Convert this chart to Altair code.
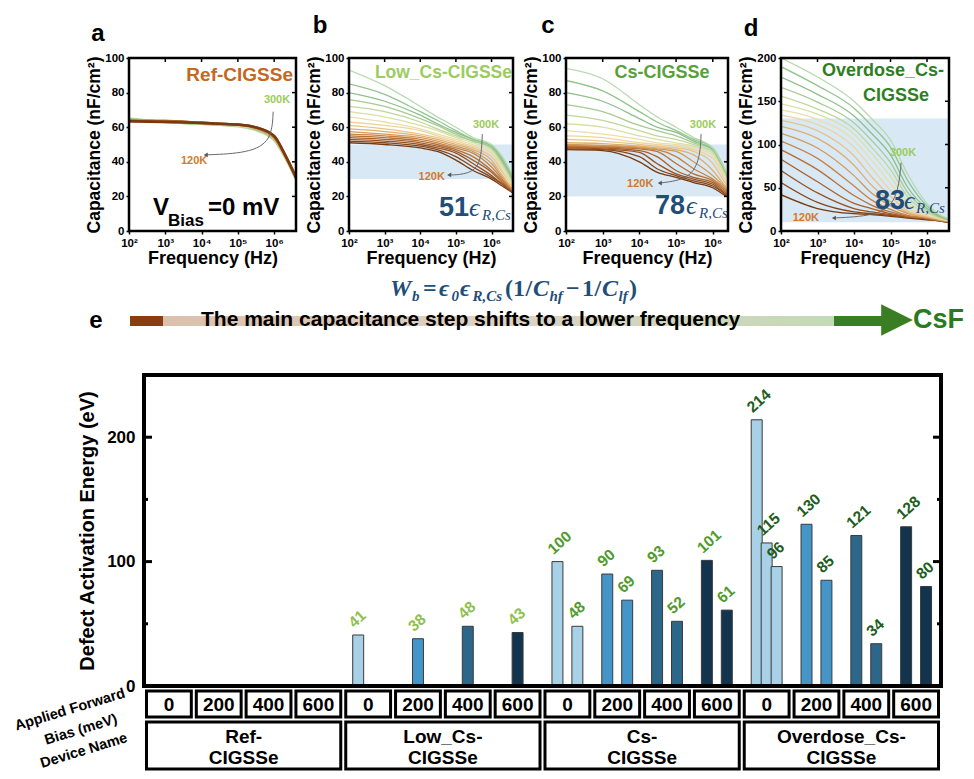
import altair as alt
import pandas as pd

SANS = "Liberation Sans, Arial, sans-serif"
NARROW = "Liberation Sans Narrow, Liberation Sans, Arial, sans-serif"
SERIF = "Liberation Serif, DejaVu Serif, serif"
NAVY = "#1f4e79"

# ---------------- data: capacitance spectra ----------------
FREQ = [1e2, 1e3, 1e4, 3e4, 1e5, 3e5, 1e6, 2e6, 4e6]
# curve colours: index 0 = 120K (brown) ... 16 = 300K (green)
PALETTE = ["#77390f", "#874517", "#985220", "#a8602a", "#b87035", "#c78243",
           "#d49856", "#dfae6d", "#e8c486", "#eed59d", "#ebdeaa", "#d9e0a4",
           "#c0d79b", "#a5cb92", "#8cbf89", "#92c48d", "#b6dbae"]

REF_IDX = [16, 13, 10, 6, 3, 0]
REF_CURVES = [
    [65.0, 63.0, 62.0, 61.5, 60.5, 58.5, 52.5, 42.5, 30.0],
    [64.5, 63.0, 62.0, 61.5, 61.0, 59.0, 53.0, 43.0, 30.0],
    [64.0, 63.5, 62.5, 62.0, 61.0, 59.5, 53.5, 43.0, 30.5],
    [64.0, 63.5, 62.5, 62.0, 61.5, 59.5, 54.0, 43.5, 30.5],
    [63.5, 63.5, 62.5, 62.0, 61.5, 60.0, 54.5, 44.0, 31.0],
    [63.5, 63.0, 62.5, 62.0, 61.5, 60.0, 55.0, 44.0, 31.0],
]

SERIES_IDX = list(range(17))
LOW_CURVES = [
    [51, 50, 48, 46, 41, 35, 30, 26, 22],
    [52, 51, 49, 47, 43, 37, 31, 27, 22],
    [53, 52, 50, 48, 45, 39, 32, 27, 22],
    [54, 53, 51, 49, 46, 41, 34, 28, 23],
    [55, 54, 52, 50, 47, 43, 35, 29, 23],
    [56, 55, 53, 51, 48, 45, 37, 30, 23],
    [57.5, 56, 54, 52, 49, 46, 39, 31, 24],
    [59, 57.5, 55, 53, 50, 47, 41, 32, 24],
    [61, 59, 56, 54, 51, 48, 43, 34, 25],
    [63, 61, 58, 55, 52, 49, 45, 35, 25],
    [66, 63, 59, 56, 53, 50, 46, 37, 26],
    [69, 66, 61, 58, 54, 51, 47, 38, 27],
    [72, 69, 63, 59, 55, 52, 48, 39, 28],
    [76, 72, 65, 61, 56, 52, 48, 40, 29],
    [80, 75, 67, 62, 57, 53, 49, 41, 30],
    [85, 79, 69, 64, 58, 53, 49, 42, 31],
    [93, 84, 72, 66, 60, 54, 50, 43, 32],
]
CS_CURVES = [
    [47, 46.5, 40, 34, 31, 28, 25, 21, 17],
    [47.5, 47, 43, 36, 32, 29, 26, 22, 17],
    [48, 47.5, 45.5, 39, 33, 30, 27, 22, 17],
    [48.5, 48, 46.5, 43, 35, 31, 28, 23, 18],
    [49, 48.5, 47.5, 46, 39, 33, 29, 24, 18],
    [49.5, 49, 48, 47, 43, 36, 30, 25, 18],
    [50, 49.5, 48.5, 47.5, 46, 40, 32, 26, 18],
    [51, 50.5, 49, 48, 47, 44, 35, 27, 19],
    [53, 52, 50, 49, 48, 46, 39, 29, 19],
    [55, 54, 51, 50, 49, 47, 42, 31, 20],
    [58, 56, 53, 51, 50, 48, 44, 33, 20],
    [62, 60, 55, 53, 51, 49, 45, 34, 21],
    [67, 64, 58, 55, 53, 50, 46, 35, 21],
    [73, 69, 61, 58, 55, 51, 47, 36, 22],
    [80, 75, 65, 60, 57, 52, 47, 36, 22],
    [87, 81, 69, 63, 58, 53, 48, 37, 22],
    [94, 88, 73, 66, 60, 54, 48, 37, 23],
]
OD_CURVES = [
    [42, 26, 20, 19, 17, 15, 13, 12, 10],
    [56, 33, 22, 20, 18, 16, 14, 12, 10],
    [70, 44, 26, 22, 19, 16, 14, 12, 10],
    [83, 57, 32, 26, 20, 17, 14, 12, 11],
    [94, 71, 41, 30, 22, 17, 15, 13, 11],
    [104, 84, 52, 36, 25, 18, 15, 13, 11],
    [113, 96, 64, 44, 29, 20, 16, 13, 11],
    [121, 107, 76, 53, 34, 21, 16, 14, 11],
    [128, 116, 87, 63, 40, 23, 17, 14, 12],
    [134, 123, 97, 73, 47, 26, 18, 15, 12],
    [140, 129, 105, 82, 55, 30, 19, 15, 12],
    [147, 135, 112, 90, 63, 34, 21, 16, 12],
    [156, 141, 118, 97, 71, 39, 22, 16, 13],
    [166, 149, 125, 105, 79, 44, 24, 17, 13],
    [178, 158, 133, 113, 88, 50, 26, 18, 13],
    [190, 168, 142, 122, 97, 58, 29, 19, 14],
    [200, 178, 150, 130, 105, 65, 32, 20, 14],
]

# temperature arrows (freq, capacitance) and label anchors
A_ARROW = ([9.4e5, 8.5e5, 2e5, 1.3e4], [69, 52, 45, 44])
B_ARROW = ([5.5e5, 5.0e5, 1.5e5, 6.5e4], [56, 36, 32.5, 32.4])
C_ARROW = ([4.8e5, 4.5e5, 2.4e5, 3.6e4], [56, 42, 30, 27.7])
D_ARROW = ([1.95e5, 1.6e5, 6e4, 2.8e3], [79, 40, 18, 15])
K300 = {"a": (1.2e6, 76), "b": (7e5, 61), "c": (5.4e5, 61), "d": (2.2e5, 90)}
K120 = {"a": (6.2e3, 40.5), "b": (2.1e4, 31), "c": (1.05e4, 27), "d": (4.8e2, 15)}
BANDS = {"b": (30, 50), "c": (20, 50), "d": (10, 130)}
EPS_VALUES = {"b": "51", "c": "78", "d": "83"}
DECADES = [1e2, 1e3, 1e4, 1e5, 1e6]

# ---------------- data: activation energies ----------------
DEVICES = ["Ref-\nCIGSSe", "Low_Cs-\nCIGSSe", "Cs-\nCIGSSe", "Overdose_Cs-\nCIGSSe"]
BIAS = ["0", "200", "400", "600"]
BAR_DEVICE = [1, 1, 1, 1, 2, 2, 2, 2, 2, 2, 2, 2, 3, 3, 3, 3, 3, 3, 3, 3, 3]
BAR_BIAS = [0, 1, 2, 3, 0, 0, 1, 1, 2, 2, 3, 3, 0, 0, 0, 1, 1, 2, 2, 3, 3]
BAR_SLOT = [0, 1, 1, 1, 0, 2, 0, 2, 0, 2, 0, 2, 0, 1, 2, 0, 2, 0, 2, 0, 2]
BAR_VALUE = [41, 38, 48, 43, 100, 48, 90, 69, 93, 52, 101, 61,
             214, 115, 96, 130, 85, 121, 34, 128, 80]
BIAS_COLORS = ["#a8d0e6", "#4595c8", "#2c6689", "#12344f"]
LABEL_COLORS = ["#8fc04c", "#8fc04c", "#4f9b2c", "#1e5c20"]

ONE = pd.DataFrame({"z": [0]})
LABEL_EXPR = ("datum.value < 500 ? '10\u00b2' : datum.value < 5000 ? '10\u00b3' : "
              "datum.value < 50000 ? '10\u2074' : datum.value < 500000 ? '10\u2075' : '10\u2076'")
PH = 173


def ptext(txt, x, y, size, color="black", align="left", baseline="middle",
          font=SANS, weight="bold", style="normal", angle=0):
    kw = dict(text=txt, align=align, baseline=baseline, font=font, fontSize=size,
              fontWeight=weight, fontStyle=style, color=color)
    if angle:
        kw["angle"] = angle
    return alt.Chart(ONE).mark_text(**kw).encode(x=alt.value(x), y=alt.value(y))


def ghost(x, y):
    # invisible anchor that fixes the extent of a panel for the concat layout
    return alt.Chart(ONE).mark_point(opacity=0, size=1).encode(x=alt.value(x), y=alt.value(y))


def curve_frame(curves, idx):
    rows = []
    for k, vals in zip(idx, curves):
        for f, c in zip(FREQ, vals):
            rows.append({"f": f, "c": c, "k": k})
    return pd.DataFrame(rows)


def top_panel(key, curves, idx, xmax, ymax, yticks, width, line_w, extra):
    xs = alt.Scale(type="log", domain=[100, xmax], nice=False)
    ys = alt.Scale(domain=[0, ymax], nice=False)
    xaxis = alt.Axis(values=DECADES, labelExpr=LABEL_EXPR,
                     title="Frequency (Hz)", titleFontSize=18, titleFontWeight="bold",
                     labelFontSize=11.5, labelFontWeight="bold", tickSize=3, tickWidth=1.5,
                     domain=False, labelPadding=3, titlePadding=1, labelFlush=False,
                     labelOverlap=False, grid=False)
    yaxis = alt.Axis(values=yticks, title="Capacitance (nF/cm\u00b2)", titleFontSize=17.5,
                     titleFontWeight="bold", labelFontSize=11.5, labelFontWeight="bold",
                     tickSize=3, tickWidth=1.5, domain=False, labelPadding=2,
                     titlePadding=1, labelFlush=False, labelOverlap=False, grid=False)

    def X(field):
        return alt.X(field, scale=xs, axis=xaxis)

    def Y(field):
        return alt.Y(field, scale=ys, axis=yaxis)

    layers = []
    if key in BANDS:
        lo, hi = BANDS[key]
        layers.append(alt.Chart(pd.DataFrame({"lo": [lo], "hi": [hi]})).mark_rect(
            color="#d4e6f3", opacity=0.9).encode(
            x=alt.value(0), x2=alt.value(width), y=Y("lo:Q"), y2="hi:Q"))
    layers.append(alt.Chart(curve_frame(curves, idx)).mark_line(
        interpolate="monotone", strokeWidth=line_w, clip=True).encode(
        x=X("f:Q"), y=Y("c:Q"),
        color=alt.Color("k:O", scale=alt.Scale(domain=SERIES_IDX, range=PALETTE), legend=None)))
    af, ac = {"a": A_ARROW, "b": B_ARROW, "c": C_ARROW, "d": D_ARROW}[key]
    adf = pd.DataFrame({"f": af, "c": ac, "o": list(range(len(af)))})
    layers.append(alt.Chart(adf).mark_line(interpolate="basis", color="#6a6a6a",
                                           strokeWidth=1).encode(
        x=X("f:Q"), y=Y("c:Q"), order="o:Q"))
    layers.append(alt.Chart(adf.tail(1)).mark_point(shape="triangle-left", filled=True,
                                                    size=22, color="#555555", opacity=1).encode(
        x=X("f:Q"), y=Y("c:Q")))
    for lab, pos, col in (("300K", K300[key], "#9ccb5a"), ("120K", K120[key], "#d27a2c")):
        layers.append(alt.Chart(pd.DataFrame({"f": [pos[0]], "c": [pos[1]]})).mark_text(
            text=lab, font=SANS, fontSize=11, fontWeight="bold", color=col).encode(
            x=X("f:Q"), y=Y("c:Q")))
    layers.extend(extra)
    # mirrored inner ticks on the right and top edges
    layers.append(alt.Chart(pd.DataFrame({"t": yticks})).mark_rule(
        strokeWidth=1.5, color="black").encode(
        y=Y("t:Q"), x=alt.value(width - 4), x2=alt.value(width)))
    layers.append(alt.Chart(pd.DataFrame({"t": DECADES})).mark_rule(
        strokeWidth=1.5, color="black").encode(
        x=X("t:Q"), y=alt.value(0), y2=alt.value(4)))
    layers.append(alt.Chart(ONE).mark_rect(fillOpacity=0, stroke="black", strokeWidth=2.5).encode(
        x=alt.value(0), x2=alt.value(width), y=alt.value(0), y2=alt.value(PH)))
    return alt.layer(*layers).properties(width=width, height=PH)


def eps_note(key, x_num, x_eps, x_sub, base):
    return [
        ptext(EPS_VALUES[key], x_num, base, 27, NAVY, align="center", baseline="alphabetic"),
        ptext("\u03f5", x_eps, base, 26, NAVY, baseline="alphabetic", font=SERIF,
              weight="normal", style="italic"),
        ptext("R,Cs", x_sub, base + 4, 15, NAVY, baseline="alphabetic", font=SERIF,
              weight="normal", style="italic"),
    ]


pa = top_panel("a", REF_CURVES, REF_IDX, 4e6, 100, [0, 20, 40, 60, 80, 100], 167, 2.6, [
    ptext("Ref-CIGSSe", 164, 17, 19, "#c4681f", align="right"),
    ptext("V", 24, 150, 24),
    ptext("Bias", 39, 163, 17),
    ptext("=0 mV", 79, 150, 24),
    ptext("a", -31, -24, 24, align="center"),
    ghost(-118, -45),
    ghost(0, PH + 38),
])
pb = top_panel("b", LOW_CURVES, SERIES_IDX, 4e6, 100, [0, 20, 40, 60, 80, 100], 164, 1.3,
               eps_note("b", 105, 120, 133, 158) + [
                   ptext("Low_Cs-CIGSSe", 163, 15, 17.5, "#9ccb5f", align="right"),
                   ptext("b", -29, -32, 24, align="center"),
               ])
pc = top_panel("c", CS_CURVES, SERIES_IDX, 2.6e6, 100, [0, 20, 40, 60, 80, 100], 162, 1.3,
               eps_note("c", 104, 120, 133, 156) + [
                   ptext("Cs-CIGSSe", 96, 15, 18, "#58a03a", align="center"),
                   ptext("c", -18, -32, 24, align="center"),
               ])
pd_ = top_panel("d", OD_CURVES, SERIES_IDX, 4e6, 200, [0, 50, 100, 150, 200], 168, 1.3,
                eps_note("d", 109, 123, 135, 151) + [
                    ptext("Overdose_Cs-", 163, 13, 18, "#2e7e22", align="right"),
                    ptext("CIGSSe", 148, 38, 18, "#2e7e22", align="right"),
                    ptext("d", -30, -29, 24, align="center"),
                ])

top_row = alt.hconcat(pa, pb, pc, pd_, spacing=53, bounds="flush")

# ---------------- panel e (with the banner above it) ----------------
EW, EH = 797, 311
XS = alt.Scale(domain=[0, 16], nice=False, zero=False)
YS = alt.Scale(domain=[0, 250], nice=False)

bars = pd.DataFrame({"d": BAR_DEVICE, "b": BAR_BIAS, "s": BAR_SLOT, "v": BAR_VALUE})
bars["pos"] = bars["d"] * 4 + bars["b"] + 0.3 + 0.2 * bars["s"]
bars["x0"] = bars["pos"] - 0.11
bars["x1"] = bars["pos"] + 0.11
bars["lx"] = bars["pos"] - 0.08
bars["ly"] = bars["v"] + 5.2

e_axis = alt.Axis(values=[0, 100, 200], ticks=False, domain=False, labelFontSize=17,
                  labelFontWeight="bold", labelPadding=9, title="Defect Activation Energy (eV)",
                  titleFontSize=20, titleFontWeight="bold", titlePadding=9, labelFlush=False,
                  grid=False)


def EY(field):
    return alt.Y(field, scale=YS, axis=e_axis)


def EX(field):
    return alt.X(field, scale=XS, axis=None)


e_layers = []
for i, col in enumerate(BIAS_COLORS):
    e_layers.append(alt.Chart(bars).transform_filter(alt.datum.b == i).mark_rect(
        fill=col, stroke="#3a3a3a", strokeWidth=1).encode(
        x=EX("x0:Q"), x2="x1:Q", y=EY("v:Q"), y2=alt.datum(0)))
for d in (1, 2, 3):
    e_layers.append(alt.Chart(bars).transform_filter(alt.datum.d == d).mark_text(
        angle=318, align="left", baseline="alphabetic", font=SANS, fontSize=15.5,
        fontWeight="bold", color=LABEL_COLORS[d]).encode(
        x=EX("lx:Q"), y=EY("ly:Q"), text="v:Q"))

TICK_MAJOR = [100, 200]
TICK_MINOR = [50, 150]
for vals, ln in ((TICK_MAJOR, 8), (TICK_MINOR, 4)):
    tdf = pd.DataFrame({"t": vals})
    e_layers.append(alt.Chart(tdf).mark_rule(strokeWidth=3, color="black").encode(
        y=EY("t:Q"), x=alt.value(0), x2=alt.value(ln)))
    e_layers.append(alt.Chart(tdf).mark_rule(strokeWidth=3, color="black").encode(
        y=EY("t:Q"), x=alt.value(EW - ln), x2=alt.value(EW)))
e_layers.append(alt.Chart(ONE).mark_rect(fillOpacity=0, stroke="black", strokeWidth=4).encode(
    x=alt.value(0), x2=alt.value(EW), y=alt.value(0), y2=alt.value(EH)))

cols = list(range(16))
bias_cells = pd.DataFrame({"x0": [c + 0.05 for c in cols], "x1": [c + 0.95 for c in cols],
                           "xm": [c + 0.5 for c in cols], "lab": [BIAS[c % 4] for c in cols]})
dev_cells = pd.DataFrame({"x0": [4 * d + 0.05 for d in range(4)],
                          "x1": [4 * d + 3.95 for d in range(4)],
                          "xm": [4 * d + 2 for d in range(4)], "name": DEVICES})
e_layers += [
    alt.Chart(bias_cells).mark_rect(fill="white", stroke="black", strokeWidth=3).encode(
        x=EX("x0:Q"), x2="x1:Q", y=alt.value(316), y2=alt.value(342)),
    alt.Chart(bias_cells).mark_text(font=NARROW, fontSize=19, fontWeight="bold").encode(
        x=EX("xm:Q"), y=alt.value(330), text="lab:N"),
    alt.Chart(dev_cells).mark_rect(fill="white", stroke="black", strokeWidth=3).encode(
        x=EX("x0:Q"), x2="x1:Q", y=alt.value(347), y2=alt.value(394)),
    alt.Chart(dev_cells).mark_text(font=NARROW, fontSize=19, fontWeight="bold",
                                   lineBreak="\n", lineHeight=21).encode(
        x=EX("xm:Q"), y=alt.value(362), text="name:N"),
    ptext("Applied Forward", -74, 335, 14.5, align="center", angle=343),
    ptext("Bias (meV)", -63, 355, 14.5, align="center", angle=343),
    ptext("Device Name", -60, 376, 14.5, align="center", angle=343),
    ptext("e", -48, -54, 24, align="center"),
    ghost(-133, -104),
]

# banner (positions relative to panel e's plot origin)
EQ_MAIN_ITALIC = [("W", 246), ("\u03f5", 295), ("\u03f5", 316), ("C", 389), ("C", 458)]
EQ_MAIN_UPRIGHT = [("=", 279), ("(", 361), ("1", 369), ("/", 381.5), ("\u2212", 422),
                   ("1", 438), ("/", 450.5), (")", 485)]
EQ_SUB = [("b", 268), ("0", 307.5), ("R,Cs", 328.5), ("hf", 405.5), ("lf", 474.5)]

e_layers += [
    alt.Chart(ONE).mark_rect(fill="#8b3c10").encode(
        x=alt.value(-14), x2=alt.value(19), y=alt.value(-59), y2=alt.value(-49)),
    alt.Chart(ONE).mark_rect(fill=alt.Gradient(
        gradient="linear", x1=0, x2=1, y1=0, y2=0,
        stops=[alt.GradientStop(color="#dbc0ad", offset=0),
               alt.GradientStop(color="#ddd2c4", offset=0.5),
               alt.GradientStop(color="#c3dab7", offset=1)])).encode(
        x=alt.value(19), x2=alt.value(690), y=alt.value(-59), y2=alt.value(-49)),
    alt.Chart(ONE).mark_rect(fill="#3b7d23").encode(
        x=alt.value(690), x2=alt.value(738), y=alt.value(-59), y2=alt.value(-49)),
    alt.Chart(ONE).mark_point(shape="M-1,-1L1,0L-1,1Z", size=1000, filled=True,
                              color="#3b7d23", opacity=1).encode(
        x=alt.value(753), y=alt.value(-55)),
    ptext("The main capacitance step shifts to a lower frequency", 57, -55, 21),
    ptext("CsF", 769, -55, 27, "#2a7a1e"),
]
for t, x in EQ_MAIN_ITALIC:
    e_layers.append(ptext(t, x, -79, 24, NAVY, baseline="alphabetic", font=SERIF,
                          style="italic"))
for t, x in EQ_MAIN_UPRIGHT:
    e_layers.append(ptext(t, x, -79, 24, NAVY, baseline="alphabetic", font=SERIF))
for t, x in EQ_SUB:
    e_layers.append(ptext(t, x, -74, 15, NAVY, baseline="alphabetic", font=SERIF,
                          style="italic"))

e_chart = alt.layer(*e_layers).properties(width=EW, height=EH)

spacer = alt.Chart(ONE).mark_point(opacity=0, size=1).encode(
    x=alt.value(0), y=alt.value(0)).properties(width=1, height=1)
e_wrap = alt.hconcat(spacer, e_chart, spacing=14, bounds="flush")

chart = alt.vconcat(top_row, e_wrap, spacing=0).properties(
    padding={"left": 2, "top": 4, "right": 0, "bottom": 0}
).configure_view(stroke=None).configure_axis(
    grid=False, labelFont=SANS, titleFont=SANS, labelColor="black", titleColor="black",
    tickColor="black"
).configure_text(font=SANS)

chart.save("out.html", embed_options={"renderer": "svg", "actions": False})
